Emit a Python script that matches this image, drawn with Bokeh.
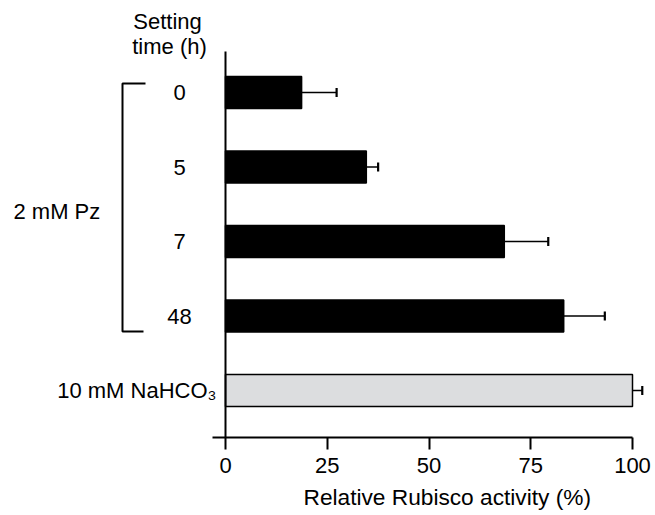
from bokeh.plotting import figure
from bokeh.models import (Range1d, LinearAxis, FixedTicker, ColumnDataSource,
                          Whisker, TeeHead, Title)
from bokeh.core.properties import value
from bokeh.embed import file_html
from bokeh.resources import INLINE

# ---- data ----
categories = ["0", "5", "7", "48", "10 mM NaHCO\u2083"]
activity = [18.7, 34.6, 68.5, 83.1, 100.0]
errors = [8.6, 2.9, 10.8, 10.1, 2.4]
x_ticks = [0, 25, 50, 75, 100]
group_label = "2 mM Pz"
header = ["Setting", "time (h)"]
x_label = "Relative Rubisco activity (%)"

FONT = "Liberation Sans"
W, H = 655, 515
FRAME_BOTTOM = 437
X0_PX, PX_PER_UNIT = 225.0, 4.07
Y0_PX, PX_PER_ROW = 92.0, 74.5


def sx(px):
    return (px - X0_PX) / PX_PER_UNIT


def sy(px):
    return (px - Y0_PX) / PX_PER_ROW


p = figure(width=W, height=H, output_backend="svg", toolbar_location=None,
           x_range=Range1d(sx(0), sx(W)),
           y_range=Range1d(sy(FRAME_BOTTOM), sy(0)),
           x_axis_location=None, y_axis_location=None,
           min_border_left=0, min_border_right=0, min_border_top=0,
           min_border_bottom=H - FRAME_BOTTOM)
p.outline_line_color = None
p.xgrid.visible = False
p.ygrid.visible = False
p.background_fill_color = "white"
p.border_fill_color = "white"

n = len(categories)
ypos = list(range(n))
src = ColumnDataSource(dict(
    y=ypos, val=activity, hi=[a + e for a, e in zip(activity, errors)],
    fill=["black"] * (n - 1) + ["#dcdddf"],
))

p.hbar(y="y", left=0, right="val", height=0.43, fill_color="fill",
       line_color="black", line_width=1.5, source=src)

wh = Whisker(base="y", lower="val", upper="hi", dimension="width", source=src,
             line_color="black", line_width=1.6, lower_head=None,
             upper_head=TeeHead(size=9, line_width=2.2, line_color="black"))
p.add_layout(wh)

# y axis line
p.segment(x0=[0], x1=[0], y0=[sy(51)], y1=[sy(FRAME_BOTTOM)],
          line_color="black", line_width=2)

# x axis
ax = LinearAxis(ticker=FixedTicker(ticks=x_ticks), bounds=(sx(212), 100))
ax.axis_line_width = 2
ax.major_tick_line_width = 2
ax.major_tick_in = 0
ax.major_tick_out = 12
ax.minor_tick_line_color = None
ax.major_label_standoff = 8
ax.major_label_text_font = FONT
ax.major_label_text_font_size = "22px"
ax.major_label_text_color = "black"
p.add_layout(ax, "below")

# x axis label (as a bottom title, shifted to sit under the data span)
t = Title(text=x_label, align="left", offset=303, standoff=12,
          text_font=FONT, text_font_size="22.7px", text_font_style="normal",
          text_color="black")
p.add_layout(t, "below")

# category labels
p.text(x=[sx(179)] * (n - 1), y=ypos[:-1], text=categories[:-1],
       text_font=value(FONT), text_font_size="22px", text_align="center",
       text_baseline="middle", text_color="black")
p.text(x=[sx(216)], y=[ypos[-1]], text=[categories[-1]],
       text_font=value(FONT), text_font_size="22px", text_align="right",
       text_baseline="middle", text_color="black")

# header
p.text(x=[sx(167), sx(169)], y=[sy(21), sy(46)], text=header,
       text_font=value(FONT), text_font_size="22px", text_align="center",
       text_baseline="middle", text_color="black")

# bracket + group label
p.line(x=[sx(145), sx(122), sx(122), sx(143)],
       y=[sy(83), sy(83), sy(331), sy(331)], line_color="black", line_width=2)
p.text(x=[sx(13)], y=[sy(211)], text=[group_label], text_font=value(FONT),
       text_font_size="22px", text_align="left", text_baseline="middle",
       text_color="black")

open("out.html", "w").write(file_html(p, INLINE))
